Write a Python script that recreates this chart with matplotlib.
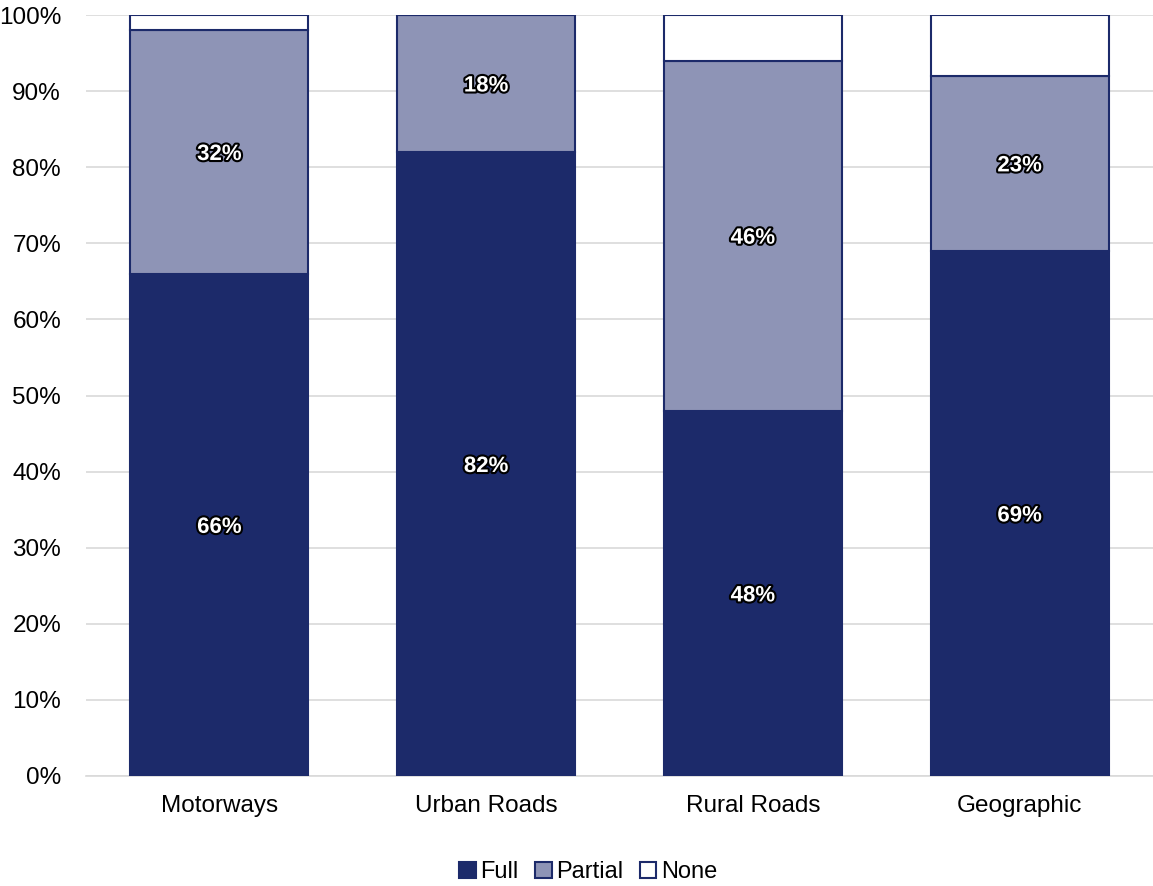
import matplotlib.pyplot as plt
import matplotlib.patheffects as pe
from matplotlib.ticker import PercentFormatter

categories = ["Motorways", "Urban Roads", "Rural Roads", "Geographic"]
full = [66, 82, 48, 69]
partial = [32, 18, 46, 23]
none = [2, 0, 6, 8]

navy = "#1C2A6A"
grey_blue = "#8E94B6"

plt.rcParams["font.family"] = ["Liberation Sans", "DejaVu Sans"]

fig = plt.figure(figsize=(11.53, 8.86), dpi=100)
ax = fig.add_axes([86 / 1153, 110 / 886, 1067 / 1153, 761 / 886])

x = range(len(categories))
w = 0.667
ax.bar(x, full, w, color=navy, edgecolor=navy, linewidth=1.5, label="Full", zorder=3)
ax.bar(x, partial, w, bottom=full, color=grey_blue, edgecolor=navy, linewidth=1.5,
       label="Partial", zorder=3)
bottom2 = [f + p for f, p in zip(full, partial)]
ax.bar(x, none, w, bottom=bottom2, color="white", edgecolor=navy, linewidth=1.5,
       label="None", zorder=3)

outline = [pe.withStroke(linewidth=3, foreground="black")]
for i in x:
    ax.text(i, full[i] / 2, f"{full[i]}%", ha="center", va="center_baseline", color="white",
            fontsize=16, fontweight="bold", path_effects=outline, zorder=5)
    ax.text(i, full[i] + partial[i] / 2, f"{partial[i]}%", ha="center", va="center_baseline",
            color="white", fontsize=16, fontweight="bold", path_effects=outline, zorder=5)

ax.set_xlim(-0.5, 3.5)
ax.set_ylim(0, 100)
ax.set_yticks(range(0, 101, 10))
ax.yaxis.set_major_formatter(PercentFormatter(decimals=0))
ax.set_xticks(list(x))
ax.set_xticklabels(categories)
ax.tick_params(axis="both", length=0, labelsize=17.5, colors="black")
ax.tick_params(axis="x", pad=14)
ax.tick_params(axis="y", pad=18)
ax.grid(axis="y", color="#D9D9D9", linewidth=1.2, zorder=0)
for s in ["top", "right", "left"]:
    ax.spines[s].set_visible(False)
ax.spines["bottom"].set_color("#D9D9D9")
ax.spines["bottom"].set_linewidth(1.2)

ax.legend(loc="upper center", bbox_to_anchor=(0.5 - 86 / 1153 / 2 + 0.008, -0.106), ncol=3,
          frameon=False, fontsize=17, handlelength=0.7, handleheight=0.7,
          handletextpad=0.2, columnspacing=0.7, borderaxespad=0, borderpad=0.2)

fig.savefig("out.png", dpi=100)
